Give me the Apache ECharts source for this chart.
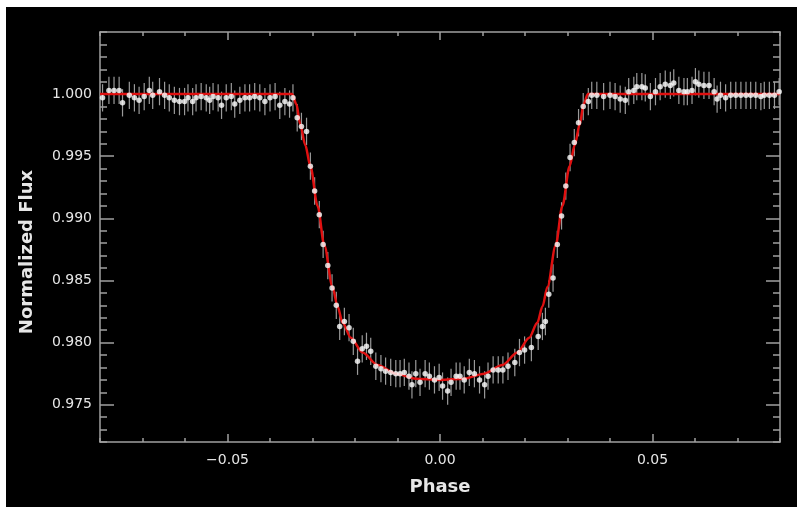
<!DOCTYPE html>
<html>
<head>
<meta charset="utf-8">
<script src="https://cdn.jsdelivr.net/npm/echarts@6/dist/echarts.min.js"></script>
<style>
  html, body { margin: 0; padding: 0; background: #fff; }
  #chart { position: absolute; left: 6px; top: 7px; width: 791px; height: 500px; background: #000; }
</style>
</head>
<body>
<div id="chart"></div>
<script>
// observed points (phase, normalized flux)
const phase = [
  -0.0794, -0.0779, -0.0767, -0.0755, -0.0747, -0.0731, -0.0719, -0.0708, -0.0696, -0.0684,
  -0.0676, -0.0660, -0.0648, -0.0637, -0.0625, -0.0613, -0.0601, -0.0593, -0.0582, -0.0574,
  -0.0562, -0.0550, -0.0542, -0.0534, -0.0522, -0.0514, -0.0503, -0.0491, -0.0483, -0.0471,
  -0.0459, -0.0448, -0.0436, -0.0424, -0.0412, -0.0400, -0.0388, -0.0377, -0.0365, -0.0354,
  -0.0346, -0.0336, -0.0326, -0.0314, -0.0305, -0.0295, -0.0284, -0.0275, -0.0264, -0.0254,
  -0.0244, -0.0236, -0.0225, -0.0214, -0.0204, -0.0194, -0.0183, -0.0173, -0.0163, -0.0151,
  -0.0139, -0.0128, -0.0116, -0.0104, -0.0094, -0.0084, -0.0073, -0.0066, -0.0057, -0.0047,
  -0.0035, -0.0025, -0.0013, -0.0002, 0.0006, 0.0018, 0.0026, 0.0038, 0.0047, 0.0057,
  0.0069, 0.0081, 0.0093, 0.0105, 0.0113, 0.0125, 0.0137, 0.0148, 0.0160, 0.0176,
  0.0187, 0.0199, 0.0215, 0.0231, 0.0241, 0.0248, 0.0256, 0.0266, 0.0276, 0.0286,
  0.0296, 0.0306, 0.0316, 0.0326, 0.0337, 0.0349, 0.0357, 0.0369, 0.0385, 0.0400,
  0.0412, 0.0424, 0.0436, 0.0444, 0.0456, 0.0463, 0.0475, 0.0483, 0.0495, 0.0507,
  0.0518, 0.0530, 0.0542, 0.0550, 0.0562, 0.0574, 0.0582, 0.0593, 0.0601, 0.0609,
  0.0621, 0.0633, 0.0645, 0.0652, 0.0660, 0.0672, 0.0684, 0.0696, 0.0708, 0.0720,
  0.0731, 0.0743, 0.0755, 0.0763, 0.0775, 0.0787, 0.0798
]
const flux = [
  0.9997, 1.0003, 1.0003, 1.0003, 0.9993, 0.9999, 0.9997, 0.9995, 0.9998, 1.0003,
  0.9999, 1.0002, 0.9999, 0.9997, 0.9995, 0.9994, 0.9994, 0.9997, 0.9994, 0.9997,
  0.9998, 0.9997, 0.9995, 0.9998, 0.9997, 0.9991, 0.9997, 0.9998, 0.9992, 0.9995,
  0.9997, 0.9997, 0.9998, 0.9997, 0.9994, 0.9997, 0.9998, 0.9991, 0.9994, 0.9992,
  0.9997, 0.9981, 0.9974, 0.9970, 0.9942, 0.9922, 0.9903, 0.9879, 0.9862, 0.9844,
  0.9830, 0.9813, 0.9817, 0.9812, 0.9801, 0.9785, 0.9795, 0.9797, 0.9793, 0.9781,
  0.9779, 0.9777, 0.9776, 0.9775, 0.9775, 0.9776, 0.9773, 0.9766, 0.9775, 0.9768,
  0.9775, 0.9773, 0.9770, 0.9772, 0.9765, 0.9761, 0.9768, 0.9773, 0.9773, 0.9770,
  0.9776, 0.9775, 0.9770, 0.9766, 0.9773, 0.9778, 0.9778, 0.9778, 0.9781, 0.9784,
  0.9792, 0.9794, 0.9796, 0.9805, 0.9813, 0.9817, 0.9839, 0.9852, 0.9879, 0.9902,
  0.9926, 0.9949, 0.9961, 0.9977, 0.9990, 0.9994, 0.9999, 0.9999, 0.9998, 0.9999,
  0.9998, 0.9996, 0.9995, 1.0002, 1.0003, 1.0006, 1.0006, 1.0005, 0.9998, 1.0002,
  1.0006, 1.0008, 1.0007, 1.0009, 1.0003, 1.0002, 1.0002, 1.0003, 1.0010, 1.0008,
  1.0007, 1.0007, 1.0002, 0.9996, 0.9999, 0.9997, 0.9999, 0.9999, 0.9999, 0.9999,
  0.9999, 0.9999, 0.9998, 0.9999, 0.9999, 0.9999, 1.0002
]
// half-length of the error bars, in flux units
const fluxErr = 0.0011

// transit model curve
const modelPhase = [
  -0.080, -0.0348, -0.0338, -0.0329, -0.0317, -0.0305, -0.0288, -0.0272, -0.0253, -0.0241,
  -0.0229, -0.0210, -0.0182, -0.0147, -0.0104, -0.0057, 0, 0.0057, 0.0104, 0.0147,
  0.0182, 0.0210, 0.0229, 0.0241, 0.0253, 0.0272, 0.0288, 0.0305, 0.0317, 0.0329,
  0.0338, 0.0348, 0.080
]
const modelFlux = [
  1.0000, 1.0000, 0.9992, 0.9976, 0.9959, 0.9942, 0.9910, 0.9878, 0.9845, 0.9829,
  0.9816, 0.9804, 0.9792, 0.9782, 0.9775, 0.9771, 0.9770, 0.9771, 0.9775, 0.9782,
  0.9792, 0.9804, 0.9816, 0.9829, 0.9845, 0.9878, 0.9910, 0.9942, 0.9959, 0.9976,
  0.9992, 1.0000, 1.0000
]

// tick marks
const xMajorTicks = [-0.05, 0, 0.05]
const yMajorTicks = [0.975, 0.98, 0.985, 0.99, 0.995, 1.0]

const X_MIN = -0.08, X_MAX = 0.08
const Y_MIN = 0.972, Y_MAX = 1.005

const axisColor = "#a0a0a0"
const labelColor = "#e6e6e6"
const font = "DejaVu Sans"

const points = phase.map((p, i) => [p, flux[i]])
const model = modelPhase.map((p, i) => [p, modelFlux[i]])

function xAxisPair(position, withLabels) {
  const lineStyle = { color: axisColor, width: 1.5 }
  return [
    {
      type: "value", position, min: X_MIN, max: X_MAX,
      axisLine: { show: true, onZero: false, lineStyle },
      axisTick: { show: true, inside: true, length: 8, customValues: xMajorTicks, lineStyle },
      axisLabel: {
        show: withLabels, customValues: xMajorTicks, margin: 11,
        color: labelColor, fontFamily: font, fontSize: 14,
        formatter: (v) => (v < 0 ? "\u2212" : "") + Math.abs(v).toFixed(2),
      },
      splitLine: { show: false },
      name: withLabels ? "Phase" : "",
      nameLocation: "middle", nameGap: 36,
      nameTextStyle: { color: labelColor, fontFamily: font, fontSize: 18, fontWeight: "bold" },
    },
    {
      type: "value", position, min: X_MIN, max: X_MAX, interval: 0.01,
      axisLine: { show: false, onZero: false },
      axisTick: { show: true, inside: true, length: 4, lineStyle },
      axisLabel: { show: false },
      splitLine: { show: false },
    },
  ]
}

function yAxisPair(position, withLabels) {
  const lineStyle = { color: axisColor, width: 1.5 }
  return [
    {
      type: "value", position, min: Y_MIN, max: Y_MAX,
      axisLine: { show: true, onZero: false, lineStyle },
      axisTick: { show: true, inside: true, length: 14, customValues: yMajorTicks, lineStyle },
      axisLabel: {
        show: withLabels, customValues: yMajorTicks, margin: 8,
        color: labelColor, fontFamily: font, fontSize: 14,
        formatter: (v) => v.toFixed(3),
      },
      splitLine: { show: false },
      name: withLabels ? "Normalized Flux" : "",
      nameLocation: "middle", nameGap: 64,
      nameTextStyle: {
        color: labelColor, fontFamily: font, fontSize: 18, fontWeight: "bold",
        padding: [0, 30, 0, 0],
      },
    },
    {
      type: "value", position, min: Y_MIN, max: Y_MAX, interval: 0.001,
      axisLine: { show: false, onZero: false },
      axisTick: { show: true, inside: true, length: 7, lineStyle },
      axisLabel: { show: false },
      splitLine: { show: false },
    },
  ]
}

const chart = echarts.init(document.getElementById("chart"))
chart.setOption({
  backgroundColor: "#000",
  animation: false,
  grid: { left: 94, top: 25, right: 17, bottom: 65 },
  xAxis: [...xAxisPair("bottom", true), ...xAxisPair("top", false)],
  yAxis: [...yAxisPair("left", true), ...yAxisPair("right", false)],
  series: [
    {
      type: "custom",
      data: points,
      renderItem: (params, api) => {
        const x = api.value(0)
        const y = api.value(1)
        const top = api.coord([x, y + fluxErr])
        const bottom = api.coord([x, y - fluxErr])
        return {
          type: "line",
          shape: { x1: top[0], y1: top[1], x2: bottom[0], y2: bottom[1] },
          style: { stroke: "#9a9a9a", lineWidth: 1.2 },
        }
      },
      z: 1,
    },
    {
      type: "line",
      data: model,
      showSymbol: false,
      smooth: 0.3,
      smoothMonotone: "x",
      lineStyle: { color: "#e01010", width: 2.5 },
      z: 2,
    },
    {
      type: "scatter",
      data: points,
      symbol: "circle",
      symbolSize: 5.5,
      itemStyle: { color: "#ffffff" },
      z: 3,
    },
  ],
})
</script>
</body>
</html>
